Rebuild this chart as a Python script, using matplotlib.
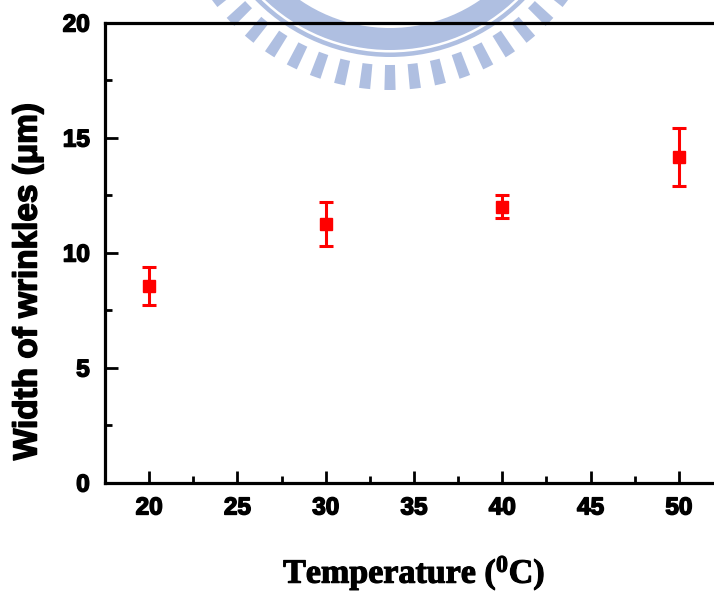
import numpy as np
import matplotlib
matplotlib.use("Agg")
import matplotlib.pyplot as plt
import matplotlib.patheffects as pe
from matplotlib.patches import Wedge
from matplotlib.transforms import Affine2D
from matplotlib.ticker import MultipleLocator

# ---- data ----
temps = [20, 30, 40, 50]
width_um = [8.55, 11.25, 12.0, 14.15]
width_err = [0.84, 0.95, 0.50, 1.25]
xticks = [20, 25, 30, 35, 40, 45, 50]
yticks = [0, 5, 10, 15, 20]

W, H = 714, 591
plt.rcParams['mathtext.fontset'] = 'custom'
plt.rcParams['mathtext.rm'] = 'Liberation Serif:bold'
plt.rcParams['mathtext.it'] = 'Liberation Serif:bold'
plt.rcParams['mathtext.bf'] = 'Liberation Serif:bold'

fig = plt.figure(figsize=(W / 100, H / 100), dpi=100)

# watermark (decorative logo) in image-pixel coordinates
pix = Affine2D().scale(1 / W, -1 / H).translate(0, 1) + fig.transFigure
wm_col = '#afbfe1'
cx, cy = 390, -131
fig.patches.append(Wedge((cx, cy), 181, 0, 180, width=22, facecolor=wm_col,
                         edgecolor='none', transform=pix, zorder=-1))
fig.patches.append(Wedge((cx, cy), 188, 0, 180, width=4.5, facecolor=wm_col,
                         edgecolor='none', transform=pix, zorder=-1))
for ang in np.arange(-66, 67, 6.6):
    fig.patches.append(Wedge((cx, cy), 221, 90 - ang - 1.45, 90 - ang + 1.45, width=25,
                             facecolor=wm_col, edgecolor='none', transform=pix, zorder=-1))

ax = fig.add_axes([105 / W, 1 - 482.5 / H, (723 - 105) / W, (482.5 - 22.5) / H])
ax.set_facecolor('none')

ax.errorbar(temps, width_um, yerr=width_err, fmt='s', color='#ff0000', ecolor='#ff0000',
            markersize=8, elinewidth=2.2, capsize=5, capthick=2.2, clip_on=False)

ax.set_xlim(17.5, 52.5)
ax.set_ylim(0, 20)
ax.set_xticks(xticks)
ax.set_yticks(yticks)
ax.xaxis.set_minor_locator(MultipleLocator(2.5))
ax.yaxis.set_minor_locator(MultipleLocator(2.5))

for s in ax.spines.values():
    s.set_linewidth(2.3)

ax.tick_params(which='both', direction='in', top=False, right=False, width=2, color='black')
ax.tick_params(which='major', length=9)
ax.tick_params(which='minor', length=5)
ax.tick_params(axis='x', which='major', pad=10)
ax.tick_params(axis='y', which='major', pad=11)

heavy = [pe.withStroke(linewidth=1.1, foreground='black')]
for lab in ax.get_xticklabels() + ax.get_yticklabels():
    lab.set_fontfamily('Liberation Sans')
    lab.set_fontweight('bold')
    lab.set_fontsize(17.5)
    lab.set_path_effects(heavy)

ax.set_ylabel('Width of wrinkles (\u03bcm)', fontfamily='Liberation Sans', fontweight='bold',
              fontsize=24, path_effects=heavy)
ax.yaxis.set_label_coords(-(105 - 28) / (723 - 105), (482.5 - 281) / 460)
ax.set_xlabel(r'Temperature ($^{0}$C)', fontfamily='Liberation Serif', fontweight='bold',
              fontsize=24.5, path_effects=[pe.withStroke(linewidth=0.8, foreground='black')])
ax.xaxis.set_label_coords(0.5, -(573.5 - 482.5) / 460)
ax.xaxis.label.set_va('center')
ax.yaxis.label.set_va('center')

fig.savefig('out.png', dpi=100)
